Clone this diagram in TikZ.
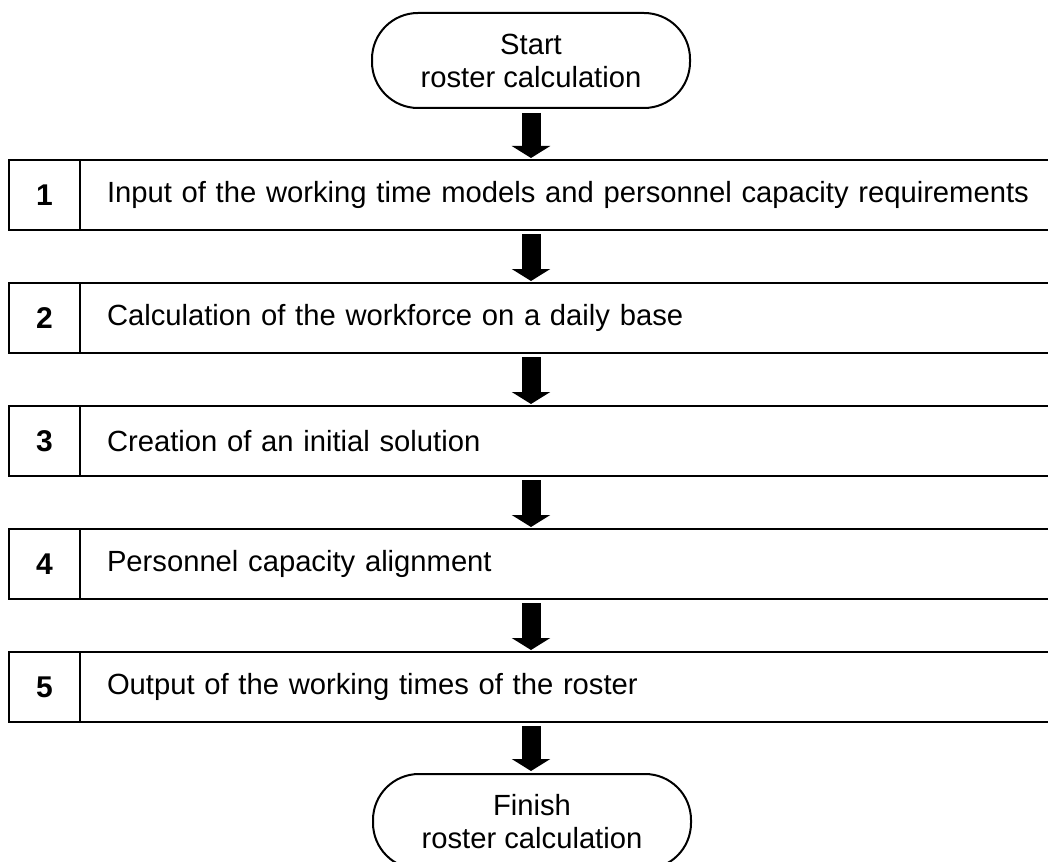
\documentclass[tikz,border=0pt]{standalone}
\usepackage{fontspec}
\setmainfont{Liberation Sans}
\usepackage{tikz}
\usetikzlibrary{arrows.meta, positioning, calc}

\begin{document}
\begin{tikzpicture}[
  font=\fontsize{14.6}{16.5}\selectfont,
  terminal/.style = {draw, line width=1pt, rounded corners=23pt, minimum width=159pt, minimum height=47.5pt, align=center},
  stepnum/.style = {draw, line width=1pt, minimum width=35.5pt, minimum height=35pt, outer sep=0pt, font=\fontsize{15}{16.5}\selectfont\bfseries},
  steptext/.style = {draw, line width=1pt, text width=480pt, inner xsep=13.5pt, minimum height=35pt, outer sep=0pt, align=left},
  arrow/.style = {line width=9.5pt, -{Triangle[width=19pt, length=6pt]}, shorten <=2pt, shorten >=1pt},
  node distance=26.5pt
]
\useasboundingbox (0,0) rectangle (524pt,-430.5pt);

% Start terminal
\node[terminal] (start) at (265.5pt,-30.25pt) {Start\\roster calculation};

% Steps
\node[stepnum] (num1) at (22.25pt,-97.5pt) {1};
\node[steptext, right=0pt of num1] (txt1) {Input of the working time models and personnel capacity requirements};

\node[stepnum, below=of num1] (num2) {2};
\node[steptext, right=0pt of num2] (txt2) {Calculation of the workforce on a daily base};

\node[stepnum, below=of num2] (num3) {3};
\node[steptext, right=0pt of num3] (txt3) {Creation of an initial solution};

\node[stepnum, below=of num3] (num4) {4};
\node[steptext, right=0pt of num4] (txt4) {Personnel capacity alignment};

\node[stepnum, below=of num4] (num5) {5};
\node[steptext, right=0pt of num5] (txt5) {Output of the working times of the roster};

% Finish terminal
\node[terminal, anchor=north] (finish) at ($(num5.south -| start)+(0.5pt,-25.5pt)$) {Finish\\roster calculation};

% Block arrows
\draw[arrow] (start.south) -- (start.south |- txt1.north);
\draw[arrow] (start.south |- txt1.south) -- (start.south |- txt2.north);
\draw[arrow] (start.south |- txt2.south) -- (start.south |- txt3.north);
\draw[arrow] (start.south |- txt3.south) -- (start.south |- txt4.north);
\draw[arrow] (start.south |- txt4.south) -- (start.south |- txt5.north);
\draw[arrow] (start.south |- txt5.south) -- (start.south |- finish.north);

\end{tikzpicture}
\end{document}
